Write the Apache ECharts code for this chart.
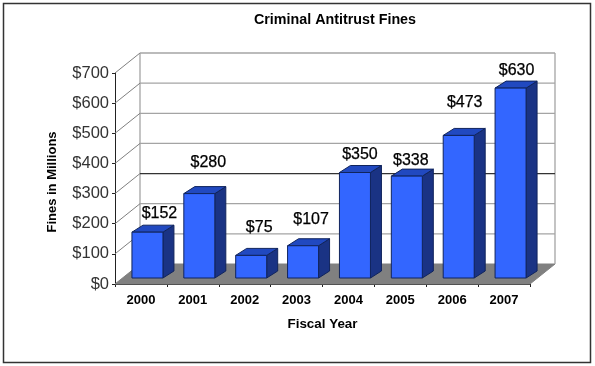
<!DOCTYPE html>
<html>
<head>
<meta charset="utf-8">
<style>
  html, body { margin: 0; padding: 0; background: #fff; }
  #chart { width: 595px; height: 366px; }
</style>
<script src="https://cdn.jsdelivr.net/npm/echarts@6/dist/echarts.min.js"></script>
</head>
<body>
<div id="chart"></div>
<script>
const years = ['2000', '2001', '2002', '2003', '2004', '2005', '2006', '2007']
const fines = [152, 280, 75, 107, 350, 338, 473, 630]
const yTicks = [0, 100, 200, 300, 400, 500, 600, 700]

// label placement relative to the bar's front top edge, the original has them scattered
const labelShiftX = [12, 9, 8, 8, 5, 4, 6, 6]
const labelLift = [19, 31, 28, 26, 18, 16, 33, 18]

const FONT = '"Liberation Sans", Arial, sans-serif'
const WALL_DX = 25
const WALL_DY = -20
const BAR_DX = 11
const BAR_DY = -7
const BAR_WIDTH = 31
const BAR_SHIFT = 6.5

const renderWall = (params, api) => {
  const value = api.value(0)
  const [, y] = api.coord([0, value])
  const rect = params.coordSys
  const left = rect.x
  const right = rect.x + rect.width
  const backLine = value === 300 ? '#333' : '#a4a4a4'
  const children = []

  if (value === 0) {
    children.push({
      type: 'polygon',
      shape: { points: [[left, y], [right, y], [right + WALL_DX, y + WALL_DY], [left + WALL_DX, y + WALL_DY]] },
      style: { fill: '#808080', stroke: '#808080' }
    })
    children.push({
      type: 'line',
      shape: { x1: left + WALL_DX, y1: y + WALL_DY, x2: left + WALL_DX, y2: rect.y + WALL_DY },
      style: { stroke: '#a4a4a4', lineWidth: 1.3 }
    })
    children.push({
      type: 'line',
      shape: { x1: right + WALL_DX, y1: y + WALL_DY, x2: right + WALL_DX, y2: rect.y + WALL_DY },
      style: { stroke: '#a4a4a4', lineWidth: 1.3 }
    })
  } else {
    children.push({
      type: 'line',
      shape: { x1: left + WALL_DX, y1: y + WALL_DY, x2: right + WALL_DX, y2: y + WALL_DY },
      style: { stroke: backLine, lineWidth: 1.3 }
    })
    children.push({
      type: 'line',
      shape: { x1: left, y1: y, x2: left + WALL_DX, y2: y + WALL_DY },
      style: { stroke: '#808080', lineWidth: 1 }
    })
  }
  return { type: 'group', children }
}

const renderBar = (params, api) => {
  const idx = api.value(0)
  const [cx, top] = api.coord([idx, api.value(1)])
  const [, base] = api.coord([idx, 0])
  const x = cx + BAR_SHIFT - BAR_WIDTH / 2
  const bottom = base - 6
  const y = top - 6 // whole bar sits 6px up from the front edge of the floor
  const w = BAR_WIDTH
  const outline = '#10245c'

  return {
    type: 'group',
    children: [
      {
        type: 'polygon',
        shape: { points: [[x + w, y], [x + w + BAR_DX, y + BAR_DY], [x + w + BAR_DX, bottom + BAR_DY], [x + w, bottom]] },
        style: { fill: '#1a3384', stroke: outline, lineWidth: 1 }
      },
      {
        type: 'polygon',
        shape: { points: [[x, y], [x + BAR_DX, y + BAR_DY], [x + w + BAR_DX, y + BAR_DY], [x + w, y]] },
        style: { fill: '#2149c0', stroke: outline, lineWidth: 1 }
      },
      {
        type: 'rect',
        shape: { x, y, width: w, height: bottom - y },
        style: { fill: '#3366ff', stroke: outline, lineWidth: 1 }
      },
      {
        type: 'text',
        style: {
          x: cx + BAR_SHIFT + labelShiftX[idx],
          y: y - labelLift[idx],
          text: '$' + api.value(1),
          fill: '#000',
          stroke: '#000',
          lineWidth: 0.25,
          font: '16px ' + FONT,
          align: 'center',
          verticalAlign: 'middle'
        }
      }
    ]
  }
}

const chart = echarts.init(document.getElementById('chart'), null, { renderer: 'canvas' })

chart.setOption({
  animation: false,
  backgroundColor: '#fff',
  title: {
    text: 'Criminal Antitrust Fines',
    left: 330,
    top: 8,
    textAlign: 'center',
    textStyle: { fontFamily: FONT, fontSize: 14.3, fontWeight: 'bold', color: '#000' }
  },
  grid: { left: 115, right: 65, top: 73, bottom: 82 },
  xAxis: {
    type: 'category',
    data: years,
    name: 'Fiscal Year',
    nameLocation: 'middle',
    nameGap: 34,
    nameTextStyle: { fontFamily: FONT, fontSize: 13.4, fontWeight: 'bold', color: '#000' },
    axisLine: { lineStyle: { color: '#222', width: 1 } },
    axisTick: { show: true, length: 3, inside: false, lineStyle: { color: '#222' } },
    axisLabel: { fontFamily: FONT, fontSize: 13, fontWeight: 'bold', color: '#000', margin: 10 },
    splitLine: { show: false }
  },
  yAxis: {
    type: 'value',
    min: 0,
    max: 700,
    interval: 100,
    name: 'Fines in Millions',
    nameLocation: 'middle',
    nameGap: 56,
    nameTextStyle: { fontFamily: FONT, fontSize: 13, fontWeight: 'bold', color: '#000', padding: [0, 7, 0, 0] },
    axisLine: { show: true, lineStyle: { color: '#222', width: 1 } },
    axisTick: { show: true, length: 3, lineStyle: { color: '#222' } },
    axisLabel: { fontFamily: FONT, fontSize: 16.5, color: '#333', margin: 6, formatter: '${value}' },
    splitLine: { show: false }
  },
  series: [
    {
      type: 'custom',
      coordinateSystem: 'cartesian2d',
      renderItem: renderWall,
      clip: false,
      silent: true,
      encode: { y: 0 },
      data: yTicks.map(v => [v]),
      z: 1
    },
    {
      type: 'custom',
      coordinateSystem: 'cartesian2d',
      renderItem: renderBar,
      clip: false,
      silent: true,
      encode: { x: 0, y: 1 },
      data: fines.map((v, i) => [i, v]),
      z: 2
    }
  ],
  graphic: [
    {
      type: 'rect',
      silent: true,
      shape: { x: 3.5, y: 3.5, width: 587, height: 359 },
      style: { fill: 'transparent', stroke: '#333', lineWidth: 1.5 }
    }
  ]
})
</script>
</body>
</html>
